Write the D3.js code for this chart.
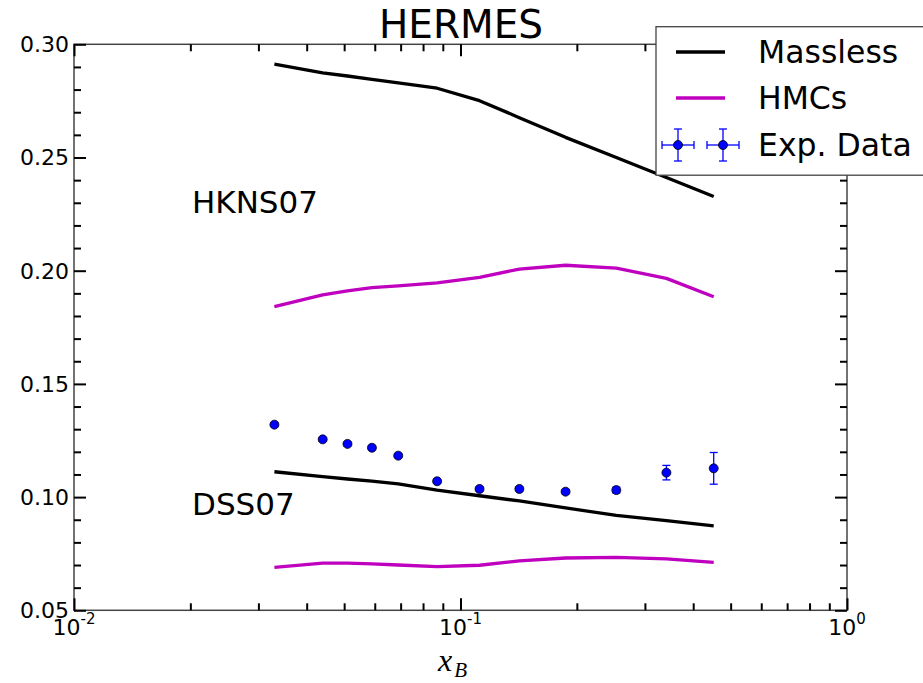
<!DOCTYPE html>
<html>
<head>
<meta charset="utf-8">
<script src="https://cdn.jsdelivr.net/npm/d3@7"></script>
<style>
  html, body { margin: 0; padding: 0; background: #fff; }
  svg { display: block; font-family: "DejaVu Sans", sans-serif; }
</style>
</head>
<body>
<svg id="chart" width="923" height="683"></svg>
<script>
// HERMES kinematic bins (Bjorken x)
const xB = [0.033, 0.044, 0.051, 0.059, 0.069, 0.087, 0.112, 0.142, 0.187, 0.253, 0.341, 0.452];

// Theory curves: HKNS07 and DSS07, massless vs. hadron-mass corrected
const hknsMassless = [0.2912, 0.2874, 0.2860, 0.2845, 0.2830, 0.2806, 0.2751, 0.2676, 0.2589, 0.2500, 0.2412, 0.2328];
const hknsHMC      = [0.1841, 0.1893, 0.1911, 0.1925, 0.1933, 0.1946, 0.1971, 0.2007, 0.2024, 0.2011, 0.1966, 0.1885];
const dssMassless  = [0.1112, 0.1090, 0.1080, 0.1071, 0.1058, 0.1031, 0.1006, 0.0983, 0.0952, 0.0919, 0.0896, 0.0873];
const dssHMC       = [0.0690, 0.0708, 0.0708, 0.0705, 0.0700, 0.0693, 0.0699, 0.0718, 0.0731, 0.0734, 0.0727, 0.0712];

// Measured multiplicities with uncertainties
const expValues = [0.1320, 0.1255, 0.1235, 0.1218, 0.1183, 0.1070, 0.1036, 0.1036, 0.1024, 0.1031, 0.1108, 0.1127];
const expErrors = [0.0008, 0.0008, 0.0008, 0.0008, 0.0008, 0.0008, 0.0008, 0.0008, 0.0009, 0.0013, 0.0032, 0.0070];

// Axis ticks
const xMajorTicks = [0.01, 0.1, 1];
const xMajorLabels = [["10", "-2"], ["10", "-1"], ["10", "0"]];
const xMinorTicks = [0.02,0.03,0.04,0.05,0.06,0.07,0.08,0.09,0.2,0.3,0.4,0.5,0.6,0.7,0.8,0.9];
const yMajorTicks = [0.05, 0.10, 0.15, 0.20, 0.25, 0.30];
const yMinorTicks = [0.06,0.07,0.08,0.09,0.11,0.12,0.13,0.14,0.16,0.17,0.18,0.19,0.21,0.22,0.23,0.24,0.26,0.27,0.28,0.29];

// Text annotations
const titleText = "HERMES";
const setLabels = [
  { text: "HKNS07", x: 0.0202, y: 0.2255 },
  { text: "DSS07",  x: 0.0202, y: 0.0921 }
];
const legendLabels = ["Massless", "HMCs", "Exp. Data"];

const BLACK = "#000000", MAGENTA = "#bf00bf", BLUE = "#0000ff";

const svg = d3.select("#chart");
const plotL = 74, plotR = 847, plotT = 44.3, plotB = 610.3;

const x = d3.scaleLog().domain([0.01, 1]).range([plotL, plotR]);
const y = d3.scaleLinear().domain([0.05, 0.30]).range([plotB, plotT]);

// Curves
const line = d3.line().x(d => x(d[0])).y(d => y(d[1]));
const curves = [
  { vals: hknsMassless, color: BLACK },
  { vals: hknsHMC, color: MAGENTA },
  { vals: dssMassless, color: BLACK },
  { vals: dssHMC, color: MAGENTA }
];
curves.forEach(c => {
  svg.append("path")
    .datum(xB.map((v, i) => [v, c.vals[i]]))
    .attr("d", line)
    .attr("fill", "none")
    .attr("stroke", c.color)
    .attr("stroke-width", 3.3)
    .attr("stroke-linejoin", "round");
});

// Data points with error bars
const pts = xB.map((v, i) => ({ x: v, y: expValues[i], e: expErrors[i] }));
const eg = svg.append("g").attr("stroke", BLUE).attr("stroke-width", 1.3);
pts.forEach(p => {
  const cx = x(p.x), y0 = y(p.y - p.e), y1 = y(p.y + p.e);
  eg.append("line").attr("x1", cx).attr("x2", cx).attr("y1", y0).attr("y2", y1);
  eg.append("line").attr("x1", cx - 4).attr("x2", cx + 4).attr("y1", y0).attr("y2", y0);
  eg.append("line").attr("x1", cx - 4).attr("x2", cx + 4).attr("y1", y1).attr("y2", y1);
});
svg.append("g").selectAll("circle").data(pts).join("circle")
  .attr("cx", d => x(d.x)).attr("cy", d => y(d.y)).attr("r", 4.5)
  .attr("fill", BLUE).attr("stroke", "#000").attr("stroke-width", 0.8);

// Set labels
setLabels.forEach(l => {
  svg.append("text").attr("x", x(l.x)).attr("y", y(l.y))
    .attr("font-size", 31).attr("fill", "#000").text(l.text);
});

// Frame
svg.append("rect").attr("x", plotL).attr("y", plotT)
  .attr("width", plotR - plotL).attr("height", plotB - plotT)
  .attr("fill", "none").attr("stroke", "#444").attr("stroke-width", 1.5);

// Inward ticks on all four sides
function ticks(axisFn, scale, values, size, transform) {
  const g = svg.append("g").attr("transform", transform)
    .call(axisFn(scale).tickValues(values).tickSize(-size).tickFormat(""));
  g.select(".domain").remove();
  g.selectAll(".tick line").attr("stroke", "#000").attr("stroke-width", 2);
  g.selectAll(".tick text").remove();
}
ticks(d3.axisBottom, x, xMajorTicks, 12, `translate(0,${plotB})`);
ticks(d3.axisBottom, x, xMinorTicks, 7, `translate(0,${plotB})`);
ticks(d3.axisTop, x, xMajorTicks, 12, `translate(0,${plotT})`);
ticks(d3.axisTop, x, xMinorTicks, 7, `translate(0,${plotT})`);
ticks(d3.axisLeft, y, yMajorTicks, 12, `translate(${plotL},0)`);
ticks(d3.axisLeft, y, yMinorTicks, 7, `translate(${plotL},0)`);
ticks(d3.axisRight, y, yMajorTicks, 12, `translate(${plotR},0)`);
ticks(d3.axisRight, y, yMinorTicks, 7, `translate(${plotR},0)`);

// Y tick labels
svg.append("g").selectAll("text").data(yMajorTicks).join("text")
  .attr("x", plotL - 5).attr("y", d => y(d)).attr("dy", "0.36em")
  .attr("text-anchor", "end").attr("font-size", 22).attr("fill", "#000")
  .text(d => d3.format(".2f")(d));

// X tick labels (powers of ten)
xMajorTicks.forEach((t, i) => {
  const txt = svg.append("text").attr("x", x(t)).attr("y", 635)
    .attr("text-anchor", "middle").attr("font-size", 22).attr("fill", "#000");
  txt.append("tspan").text(xMajorLabels[i][0]);
  txt.append("tspan").attr("font-size", 15).attr("dy", -11).text(xMajorLabels[i][1]);
});

// X axis label
const xl = svg.append("text").attr("x", 438).attr("y", 671)
  .attr("font-family", "'Liberation Serif', 'DejaVu Serif', serif")
  .attr("font-style", "italic").attr("font-size", 32).attr("fill", "#000");
xl.append("tspan").text("x");
xl.append("tspan").attr("dy", 6).attr("dx", 2).attr("font-size", 21).text("B");

// Title
svg.append("text").attr("x", 461).attr("y", 38).attr("text-anchor", "middle")
  .attr("font-size", 39).attr("fill", "#000").text(titleText);

// Legend
const lg = svg.append("g");
lg.append("rect").attr("x", 656).attr("y", 26.7).attr("width", 300).attr("height", 148.5)
  .attr("fill", "#fff").attr("stroke", "#444").attr("stroke-width", 1.3);
const rowY = [52, 98, 145];
[BLACK, MAGENTA].forEach((c, i) => {
  lg.append("line").attr("x1", 676).attr("x2", 725).attr("y1", rowY[i]).attr("y2", rowY[i])
    .attr("stroke", c).attr("stroke-width", 3.3);
});
[678, 723].forEach(cx => {
  const cy = rowY[2];
  const g = lg.append("g").attr("stroke", BLUE).attr("stroke-width", 1.3);
  g.append("line").attr("x1", cx - 16).attr("x2", cx + 16).attr("y1", cy).attr("y2", cy);
  g.append("line").attr("x1", cx).attr("x2", cx).attr("y1", cy - 16).attr("y2", cy + 16);
  g.append("line").attr("x1", cx - 16).attr("x2", cx - 16).attr("y1", cy - 4).attr("y2", cy + 4);
  g.append("line").attr("x1", cx + 16).attr("x2", cx + 16).attr("y1", cy - 4).attr("y2", cy + 4);
  g.append("line").attr("x1", cx - 4).attr("x2", cx + 4).attr("y1", cy - 16).attr("y2", cy - 16);
  g.append("line").attr("x1", cx - 4).attr("x2", cx + 4).attr("y1", cy + 16).attr("y2", cy + 16);
  lg.append("circle").attr("cx", cx).attr("cy", cy).attr("r", 4.5)
    .attr("fill", BLUE).attr("stroke", "#000").attr("stroke-width", 0.8);
});
legendLabels.forEach((t, i) => {
  lg.append("text").attr("x", 758).attr("y", rowY[i] + 11)
    .attr("font-size", 31.5).attr("fill", "#000").text(t);
});
</script>
</body>
</html>
